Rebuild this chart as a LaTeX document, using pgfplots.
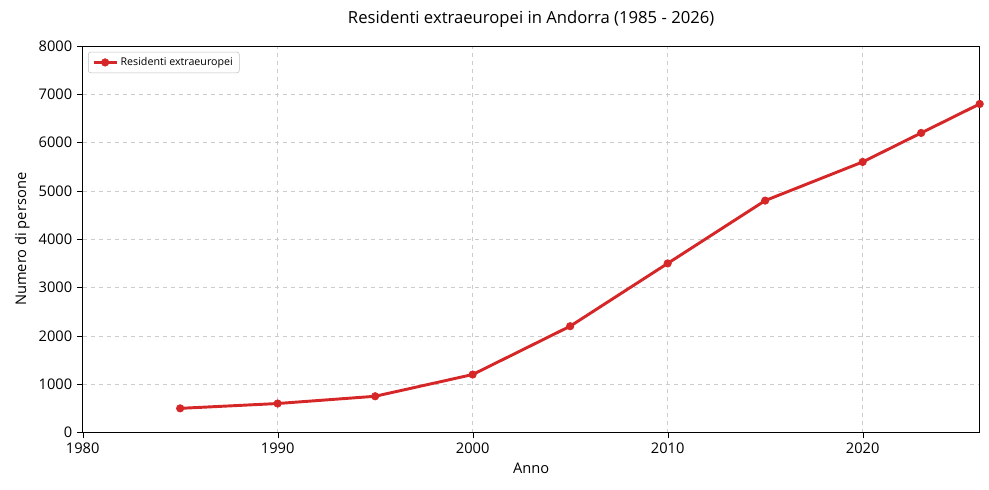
\documentclass[border=0pt]{standalone}
\usepackage{pgfplots}
\pgfplotsset{compat=1.18}
\usepackage{fontspec}
\setmainfont{Open Sans}
\definecolor{myred}{RGB}{214,39,40}
\begin{document}
\begin{tikzpicture}
\begin{axis}[
  scale only axis, width=673pt, height=290pt,
  xmin=1980, xmax=2026, ymin=0, ymax=8000,
  xtick={1980,1990,2000,2010,2020},
  ytick={0,1000,...,8000},
  xtick pos=left, ytick pos=left,
  /pgf/number format/assume math mode=true,
  x tick label style={/pgf/number format/1000 sep={}},
  y tick label style={/pgf/number format/1000 sep={}},
  tick label style={font=\fontsize{11}{13}\selectfont},
  label style={font=\fontsize{11}{13}\selectfont},
  xlabel={Anno}, ylabel={Numero di persone},
  title={Residenti extraeuropei in Andorra (1985 - 2026)},
  title style={font=\fontsize{12.5}{14}\selectfont, yshift=4pt},
  grid=major, grid style={dashed, gray!40},
  tick align=outside, tick style={black},
  legend style={at={(0.006,0.985)}, anchor=north west, font=\fontsize{8}{10}\selectfont, draw=gray!50, rounded corners=2pt},
]
\addplot[myred, line width=2.2pt, mark=*, mark size=2.8pt, mark options={line width=0.5pt}] coordinates {
(1985,500) (1990,600) (1995,750) (2000,1200) (2005,2200) (2010,3500)
(2015,4800) (2020,5600) (2023,6200) (2026,6800)};
\addlegendentry{Residenti extraeuropei}
\end{axis}
\path (current axis.south west) ++(-62pt,-43pt);
\path (current axis.north east) ++(7pt,34.5pt);
\end{tikzpicture}
\end{document}
